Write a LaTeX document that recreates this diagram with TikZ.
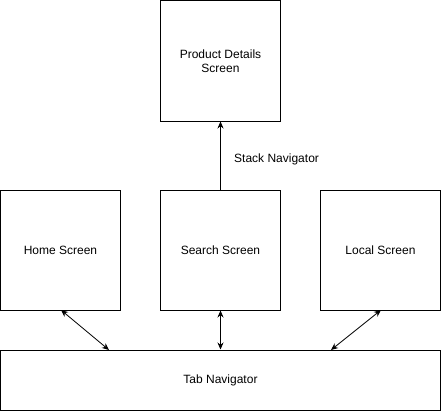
\documentclass[tikz,border=0pt]{standalone}
\usepackage{fontspec}
\setmainfont{Liberation Sans}
\usetikzlibrary{arrows.meta}
\begin{document}
\begin{tikzpicture}[x=1pt,y=-1pt,
  box/.style={draw=black,line width=1pt,fill=white,inner sep=0pt,align=center,font=\fontsize{12}{14}\selectfont},
  conn/.style={line width=0.8pt,-{Stealth[length=7pt,width=6pt]}},
  dconn/.style={line width=0.8pt,{Stealth[length=7pt,width=6pt]}-{Stealth[length=7pt,width=6pt]}}]
\useasboundingbox (0,0) rectangle (442,412);
\fill[white] (0,0) rectangle (442,412);
\node[box,minimum width=120pt,minimum height=120pt] (prod) at (220.5,61) {Product Details\\Screen};
\node[box,minimum width=120pt,minimum height=120pt] (home) at (60.5,250) {Home Screen};
\node[box,minimum width=120pt,minimum height=120pt] (search) at (220.5,250) {Search Screen};
\node[box,minimum width=120pt,minimum height=120pt] (local) at (380.5,250) {Local Screen};
\node[box,minimum width=440pt,minimum height=60pt] (tab) at (220.5,380) {Tab Navigator};
\coordinate (h1) at (61,310);
\coordinate (h2) at (109,350);
\coordinate (l1) at (381,310);
\coordinate (l2) at (331,350);
\draw[dconn] (h1) -- (h2);
\draw[dconn] (search.south) -- (search.south |- tab.north);
\draw[dconn] (l1) -- (l2);
\draw[conn] (search.north) -- node[right=10pt,font=\fontsize{12}{14}\selectfont,pos=0.45]{Stack Navigator} (prod.south);
\end{tikzpicture}
\end{document}
